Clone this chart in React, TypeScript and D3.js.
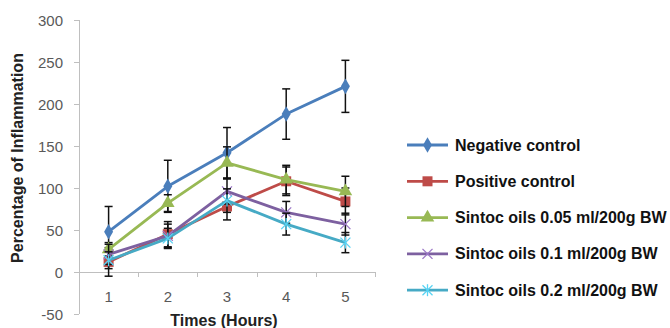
import React from "react";
import * as d3 from "d3";

const hours = ["1", "2", "3", "4", "5"];
const yTicks = [-50, 0, 50, 100, 150, 200, 250, 300];

const seriesNames = [
  "Negative control",
  "Positive control",
  "Sintoc oils 0.05 ml/200g BW",
  "Sintoc oils 0.1 ml/200g BW",
  "Sintoc oils 0.2 ml/200g BW",
];
const negativeControl = [48, 102, 142, 188, 221];
const positiveControl = [12, 45, 78, 108, 84];
const sintoc005 = [27, 82, 130, 110, 96];
const sintoc01 = [21, 43, 96, 71, 57];
const sintoc02 = [14, 40, 85, 57, 35];

const negativeErr = [30, 31, 30, 30, 31];
const positiveErr = [17, 15, 16, 17, 16];
const sintoc005Err = [8, 10, 19, 17, 18];
const sintoc01Err = [12, 14, 15, 13, 13];
const sintoc02Err = [10, 12, 14, 13, 12];

const W = 670;
const H = 328;
const plot = { left: 79, right: 375, top: 20, bottom: 314 };
const colors = ["#4A7EBB", "#BE4B48", "#98B954", "#7D60A0", "#46AAC5"];
const markerKinds = ["diamond", "square", "triangle", "x", "star"];

const font = "'Liberation Sans', Arial, sans-serif";

function Marker({ kind, x, y, color }: { kind: string; x: number; y: number; color: string }) {
  if (kind === "diamond") {
    const p = d3.symbol().type(d3.symbolDiamond).size(70)();
    return <path d={p || ""} transform={`translate(${x},${y})`} fill={color} />;
  }
  if (kind === "square") {
    return <rect x={x - 5} y={y - 5} width={10} height={10} fill={color} />;
  }
  if (kind === "triangle") {
    const p = d3.symbol().type(d3.symbolTriangle).size(80)();
    return <path d={p || ""} transform={`translate(${x},${y})`} fill={color} />;
  }
  const r = 5;
  const light = d3.color(color)!.brighter(0.6).formatHex();
  return (
    <g stroke={light} strokeWidth={1.3}>
      <line x1={x - r} y1={y - r} x2={x + r} y2={y + r} />
      <line x1={x - r} y1={y + r} x2={x + r} y2={y - r} />
      {kind === "star" && <line x1={x} y1={y - r - 1} x2={x} y2={y + r + 1} />}
    </g>
  );
}

export default function App() {
  const x = d3.scaleBand<string>().domain(hours).range([plot.left, plot.right]).padding(0);
  const y = d3.scaleLinear().domain([-50, 300]).range([plot.bottom, plot.top]);
  const cx = (h: string) => (x(h) ?? 0) + x.bandwidth() / 2;

  const values = [negativeControl, positiveControl, sintoc005, sintoc01, sintoc02];
  const errors = [negativeErr, positiveErr, sintoc005Err, sintoc01Err, sintoc02Err];

  const line = d3
    .line<number>()
    .x((_, i) => cx(hours[i]))
    .y((d) => y(d));

  const boundaries = [...hours.map((h) => x(h) ?? 0), plot.right];

  return (
    <svg width={W} height={H} style={{ position: "absolute", left: 0, top: 0, background: "#fff" }}>
      {/* axes */}
      <g stroke="#BFBFBF" strokeWidth={1}>
        <line x1={plot.left + 0.5} y1={plot.top} x2={plot.left + 0.5} y2={plot.bottom} />
        {yTicks.map((t) => (
          <line key={t} x1={plot.left - 5} x2={plot.left} y1={Math.round(y(t)) + 0.5} y2={Math.round(y(t)) + 0.5} />
        ))}
        <line x1={plot.left} x2={plot.right} y1={Math.round(y(0)) + 0.5} y2={Math.round(y(0)) + 0.5} />
        {boundaries.slice(1).map((b, i) => (
          <line key={i} x1={Math.round(b) + 0.5} x2={Math.round(b) + 0.5} y1={y(0)} y2={y(0) + 5} />
        ))}
      </g>
      <g fontFamily={font} fontSize={15} fill="#595959">
        {yTicks.map((t) => (
          <text key={t} x={63} y={y(t)} textAnchor="end" dominantBaseline="central">
            {t}
          </text>
        ))}
        {hours.map((h) => (
          <text key={h} x={cx(h)} y={296} textAnchor="middle" dominantBaseline="central">
            {h}
          </text>
        ))}
      </g>
      <text
        x={224}
        y={320}
        textAnchor="middle"
        dominantBaseline="central"
        fontFamily={font}
        fontSize={16}
        fontWeight="bold"
        fill="#222"
      >
        Times (Hours)
      </text>
      <text
        transform={`translate(17,${158}) rotate(-90)`}
        textAnchor="middle"
        dominantBaseline="central"
        fontFamily={font}
        fontSize={16}
        fontWeight="bold"
        fill="#222"
      >
        Percentage of Inflammation
      </text>

      {/* series */}
      {values.map((vals, s) => (
        <g key={s}>
          <path d={line(vals) || ""} fill="none" stroke={colors[s]} strokeWidth={2.8} strokeLinejoin="round" />
          <g stroke="#111" strokeWidth={1.5}>
            {vals.map((v, i) => {
              const px = cx(hours[i]);
              const top = y(v + errors[s][i]);
              const bot = y(v - errors[s][i]);
              return (
                <g key={i}>
                  <line x1={px} x2={px} y1={top} y2={bot} />
                  <line x1={px - 4} x2={px + 4} y1={top} y2={top} />
                  <line x1={px - 4} x2={px + 4} y1={bot} y2={bot} />
                </g>
              );
            })}
          </g>
          {vals.map((v, i) => (
            <Marker key={i} kind={markerKinds[s]} x={cx(hours[i])} y={y(v)} color={colors[s]} />
          ))}
        </g>
      ))}

      {/* legend */}
      {seriesNames.map((name, s) => {
        const ly = 145 + s * 36.3;
        return (
          <g key={name}>
            <line x1={407} x2={448} y1={ly} y2={ly} stroke={colors[s]} strokeWidth={2.8} />
            <Marker kind={markerKinds[s]} x={427.5} y={ly} color={colors[s]} />
            <text
              x={455}
              y={ly}
              dominantBaseline="central"
              fontFamily={font}
              fontSize={16}
              fontWeight="bold"
              fill="#111"
            >
              {name}
            </text>
          </g>
        );
      })}
    </svg>
  );
}
